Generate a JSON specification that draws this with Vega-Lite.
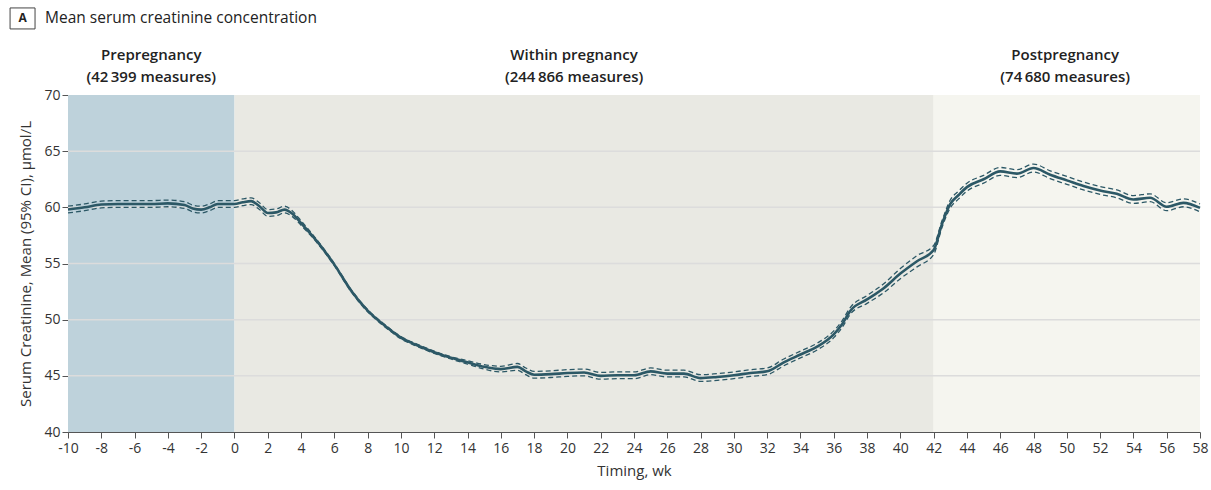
{
  "$schema": "https://vega.github.io/schema/vega-lite/v6.json",
  "width": 1132,
  "height": 337,
  "autosize": {"type": "none"},
  "padding": {"left": 68, "top": 95, "right": 11, "bottom": 58},
  "background": "white",
  "config": {
    "view": {"stroke": null},
    "font": "Open Sans",
    "axis": {
      "domainColor": "#555555",
      "tickColor": "#555555",
      "tickSize": 6,
      "labelFontSize": 14,
      "labelColor": "#333333",
      "titleFontSize": 15,
      "titleFontWeight": "normal",
      "titleColor": "#333333",
      "labelFlush": false,
      "grid": false
    }
  },
  "datasets": {
    "series": [
      {"w": -10, "m": 59.8, "lo": 59.5, "hi": 60.1},
      {"w": -9, "m": 60.0, "lo": 59.7, "hi": 60.3},
      {"w": -8, "m": 60.25, "lo": 59.95, "hi": 60.55},
      {"w": -7, "m": 60.3, "lo": 60.0, "hi": 60.6},
      {"w": -6, "m": 60.3, "lo": 60.0, "hi": 60.6},
      {"w": -5, "m": 60.3, "lo": 60.0, "hi": 60.6},
      {"w": -4, "m": 60.35, "lo": 60.05, "hi": 60.65},
      {"w": -3, "m": 60.2, "lo": 59.9, "hi": 60.5},
      {"w": -2.5, "m": 59.9, "lo": 59.6, "hi": 60.2},
      {"w": -2, "m": 59.8, "lo": 59.5, "hi": 60.1},
      {"w": -1.5, "m": 60.0, "lo": 59.7, "hi": 60.3},
      {"w": -1, "m": 60.3, "lo": 60.0, "hi": 60.6},
      {"w": 0, "m": 60.3, "lo": 60.0, "hi": 60.6},
      {"w": 0.5, "m": 60.45, "lo": 60.15, "hi": 60.75},
      {"w": 1, "m": 60.55, "lo": 60.25, "hi": 60.85},
      {"w": 1.5, "m": 60.1, "lo": 59.8, "hi": 60.4},
      {"w": 2, "m": 59.5, "lo": 59.2, "hi": 59.8},
      {"w": 2.5, "m": 59.55, "lo": 59.25, "hi": 59.85},
      {"w": 3, "m": 59.8, "lo": 59.5, "hi": 60.1},
      {"w": 3.5, "m": 59.4, "lo": 59.15, "hi": 59.65},
      {"w": 4, "m": 58.6, "lo": 58.4, "hi": 58.8},
      {"w": 5, "m": 56.9, "lo": 56.78, "hi": 57.02},
      {"w": 6, "m": 54.9, "lo": 54.8, "hi": 55.0},
      {"w": 7, "m": 52.6, "lo": 52.5, "hi": 52.7},
      {"w": 8, "m": 50.8, "lo": 50.7, "hi": 50.9},
      {"w": 9, "m": 49.5, "lo": 49.4, "hi": 49.6},
      {"w": 10, "m": 48.4, "lo": 48.3, "hi": 48.5},
      {"w": 11, "m": 47.7, "lo": 47.6, "hi": 47.8},
      {"w": 12, "m": 47.1, "lo": 47.0, "hi": 47.2},
      {"w": 13, "m": 46.6, "lo": 46.5, "hi": 46.7},
      {"w": 14, "m": 46.2, "lo": 46.05, "hi": 46.35},
      {"w": 15, "m": 45.8, "lo": 45.6, "hi": 46.0},
      {"w": 16, "m": 45.6, "lo": 45.35, "hi": 45.85},
      {"w": 17, "m": 45.8, "lo": 45.5, "hi": 46.1},
      {"w": 17.5, "m": 45.4, "lo": 45.1, "hi": 45.7},
      {"w": 18, "m": 45.1, "lo": 44.8, "hi": 45.4},
      {"w": 19, "m": 45.15, "lo": 44.85, "hi": 45.45},
      {"w": 20, "m": 45.25, "lo": 44.95, "hi": 45.55},
      {"w": 21, "m": 45.3, "lo": 45.0, "hi": 45.6},
      {"w": 22, "m": 45.0, "lo": 44.7, "hi": 45.3},
      {"w": 23, "m": 45.05, "lo": 44.75, "hi": 45.35},
      {"w": 24, "m": 45.05, "lo": 44.75, "hi": 45.35},
      {"w": 25, "m": 45.4, "lo": 45.1, "hi": 45.7},
      {"w": 26, "m": 45.2, "lo": 44.9, "hi": 45.5},
      {"w": 27, "m": 45.2, "lo": 44.9, "hi": 45.5},
      {"w": 28, "m": 44.8, "lo": 44.5, "hi": 45.1},
      {"w": 29, "m": 44.9, "lo": 44.6, "hi": 45.2},
      {"w": 30, "m": 45.05, "lo": 44.75, "hi": 45.35},
      {"w": 31, "m": 45.25, "lo": 44.95, "hi": 45.55},
      {"w": 32, "m": 45.4, "lo": 45.1, "hi": 45.7},
      {"w": 33, "m": 46.2, "lo": 45.9, "hi": 46.5},
      {"w": 34, "m": 46.9, "lo": 46.6, "hi": 47.2},
      {"w": 35, "m": 47.6, "lo": 47.3, "hi": 47.9},
      {"w": 36, "m": 48.7, "lo": 48.4, "hi": 49.0},
      {"w": 36.5, "m": 49.6, "lo": 49.3, "hi": 49.9},
      {"w": 37, "m": 50.8, "lo": 50.5, "hi": 51.1},
      {"w": 38, "m": 51.8, "lo": 51.45, "hi": 52.15},
      {"w": 39, "m": 52.8, "lo": 52.4, "hi": 53.2},
      {"w": 40, "m": 54.1, "lo": 53.65, "hi": 54.55},
      {"w": 41, "m": 55.2, "lo": 54.7, "hi": 55.7},
      {"w": 42, "m": 56.2, "lo": 55.8, "hi": 56.6},
      {"w": 42.5, "m": 58.5, "lo": 58.2, "hi": 58.8},
      {"w": 43, "m": 60.3, "lo": 59.95, "hi": 60.65},
      {"w": 43.5, "m": 61.1, "lo": 60.75, "hi": 61.45},
      {"w": 44, "m": 61.8, "lo": 61.45, "hi": 62.15},
      {"w": 45, "m": 62.5, "lo": 62.15, "hi": 62.85},
      {"w": 46, "m": 63.2, "lo": 62.85, "hi": 63.55},
      {"w": 47, "m": 63.0, "lo": 62.65, "hi": 63.35},
      {"w": 48, "m": 63.5, "lo": 63.15, "hi": 63.85},
      {"w": 49, "m": 62.9, "lo": 62.55, "hi": 63.25},
      {"w": 50, "m": 62.4, "lo": 62.05, "hi": 62.75},
      {"w": 51, "m": 61.9, "lo": 61.55, "hi": 62.25},
      {"w": 52, "m": 61.5, "lo": 61.15, "hi": 61.85},
      {"w": 53, "m": 61.2, "lo": 60.85, "hi": 61.55},
      {"w": 54, "m": 60.7, "lo": 60.35, "hi": 61.05},
      {"w": 55, "m": 60.85, "lo": 60.5, "hi": 61.2},
      {"w": 56, "m": 60.05, "lo": 59.7, "hi": 60.4},
      {"w": 57, "m": 60.4, "lo": 60.05, "hi": 60.75},
      {"w": 58, "m": 59.95, "lo": 59.6, "hi": 60.3}
    ],
    "regions": [
      {"region": "Prepregnancy", "w": -10, "end": 0},
      {"region": "Within pregnancy", "w": 0, "end": 42},
      {"region": "Postpregnancy", "w": 42, "end": 58}
    ],
    "regionlabels": [
      {"w": -5, "label": "Prepregnancy\n(42\u2009399 measures)"},
      {"w": 20.4, "label": "Within pregnancy\n(244\u2009866 measures)"},
      {"w": 49.9, "label": "Postpregnancy\n(74\u2009680 measures)"}
    ],
    "grid": [{"v": 45}, {"v": 50}, {"v": 55}, {"v": 60}, {"v": 65}]
  },
  "encoding": {
    "x": {"field": "w", "type": "quantitative", "scale": {"domain": [-10, 58], "nice": false, "zero": false},
      "axis": {"title": "Timing, wk", "values": [-10,-8,-6,-4,-2,0,2,4,6,8,10,12,14,16,18,20,22,24,26,28,30,32,34,36,38,40,42,44,46,48,50,52,54,56,58], "labelExpr": "'' + datum.value", "labelOverlap": false, "labelSeparation": 0, "labelFlush": false, "labelPadding": 3, "titlePadding": 8}}
  },
  "layer": [
    {
      "data": {"name": "regions"},
      "mark": {"type": "rect"},
      "encoding": {
        "x2": {"field": "end"},
        "color": {"field": "region", "type": "nominal", "legend": null,
          "scale": {"domain": ["Prepregnancy", "Within pregnancy", "Postpregnancy"], "range": ["#bed2db", "#e9e9e3", "#f5f5ef"]}}
      }
    },
    {
      "data": {"name": "grid"},
      "mark": {"type": "rule", "stroke": "#dcdcdc", "strokeWidth": 1.5},
      "encoding": {
        "x": {"value": 0},
        "x2": {"value": 1132},
        "y": {"field": "v", "type": "quantitative"}
      }
    },
    {
      "data": {"name": "series"},
      "mark": {"type": "line", "interpolate": "monotone", "stroke": "#2c5866", "strokeWidth": 1.3, "strokeDash": [5, 3]},
      "encoding": {
        "y": {"field": "lo", "type": "quantitative"}
      }
    },
    {
      "data": {"name": "series"},
      "mark": {"type": "line", "interpolate": "monotone", "stroke": "#2c5866", "strokeWidth": 1.3, "strokeDash": [5, 3]},
      "encoding": {
        "y": {"field": "hi", "type": "quantitative"}
      }
    },
    {
      "data": {"name": "series"},
      "mark": {"type": "line", "interpolate": "monotone", "stroke": "#2c5866", "strokeWidth": 2.6},
      "encoding": {
        "y": {"field": "m", "type": "quantitative", "scale": {"domain": [40, 70], "nice": false, "zero": false},
          "axis": {"title": "Serum Creatinine, Mean (95% CI), \u00b5mol/L", "values": [40, 45, 50, 55, 60, 65, 70], "labelOverlap": false, "labelPadding": 2, "titlePadding": 10}}
      }
    },
    {
      "data": {"name": "regionlabels"},
      "mark": {"type": "text", "align": "center", "baseline": "alphabetic", "fontSize": 15, "fontWeight": 600, "color": "#222222", "lineBreak": "\n", "lineHeight": 22},
      "encoding": {
        "y": {"datum": 73.1, "type": "quantitative"},
        "text": {"field": "label"}
      }
    },
    {
      "data": {"values": [{"w": -13.48, "x2": -11.98, "y1": 75.88, "y2": 77.75}]},
      "mark": {"type": "rect", "fill": "white", "stroke": "#444444", "strokeWidth": 1},
      "encoding": {
        "x2": {"field": "x2"},
        "y": {"field": "y1", "type": "quantitative"},
        "y2": {"field": "y2"}
      }
    },
    {
      "data": {"values": [{"w": -12.73, "y": 76.5, "t": "A"}]},
      "mark": {"type": "text", "align": "center", "baseline": "alphabetic", "fontSize": 12, "fontWeight": "bold", "color": "#222222"},
      "encoding": {
        "y": {"field": "y", "type": "quantitative"},
        "text": {"field": "t"}
      }
    },
    {
      "data": {"values": [{"w": -11.38, "y": 76.38, "t": "Mean serum creatinine concentration"}]},
      "mark": {"type": "text", "align": "left", "baseline": "alphabetic", "fontSize": 15.5, "color": "#222222"},
      "encoding": {
        "y": {"field": "y", "type": "quantitative"},
        "text": {"field": "t"}
      }
    }
  ]
}
